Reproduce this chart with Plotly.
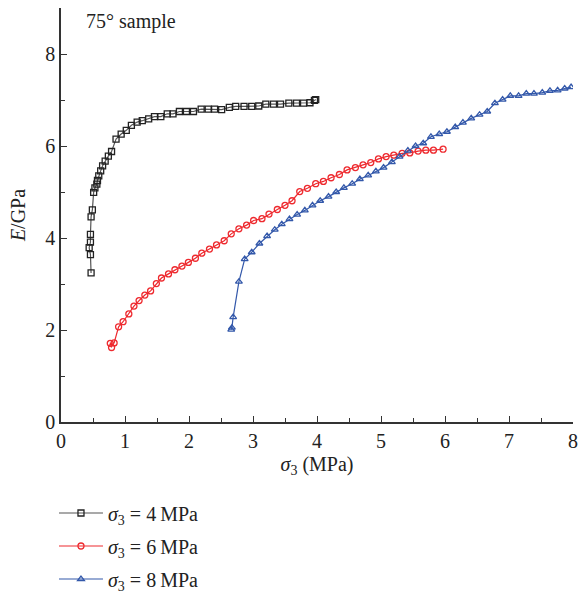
import plotly.graph_objects as go

# sigma3 = 4 MPa
x4 = [0.47,0.46,0.44,0.46,0.46,0.47,0.49,0.51,0.53,0.56,0.57,0.59,0.62,0.65,0.69,0.74,0.79,0.86,0.94,1.02,1.10,1.19,1.27,1.37,1.46,1.56,1.66,1.75,1.85,1.96,2.07,2.19,2.30,2.40,2.51,2.63,2.73,2.86,2.98,3.09,3.20,3.32,3.43,3.56,3.68,3.79,3.89,3.96,3.98]
y4 = [3.24,3.64,3.79,3.91,4.08,4.46,4.61,4.99,5.09,5.17,5.25,5.35,5.46,5.57,5.67,5.78,5.88,6.15,6.26,6.34,6.45,6.52,6.55,6.59,6.64,6.64,6.70,6.70,6.75,6.75,6.75,6.80,6.80,6.80,6.79,6.84,6.86,6.86,6.86,6.87,6.91,6.91,6.91,6.93,6.93,6.93,6.94,6.99,7.01]

# sigma3 = 6 MPa
x6 = [0.79,0.77,0.83,0.90,0.97,1.06,1.14,1.22,1.31,1.40,1.49,1.57,1.68,1.78,1.89,1.99,2.10,2.20,2.32,2.43,2.55,2.66,2.78,2.90,3.01,3.14,3.25,3.38,3.50,3.61,3.73,3.85,3.98,4.10,4.22,4.35,4.47,4.60,4.72,4.84,4.96,5.08,5.20,5.33,5.45,5.58,5.70,5.82,5.97]
y6 = [1.62,1.71,1.72,2.07,2.18,2.35,2.52,2.64,2.76,2.85,3.01,3.13,3.22,3.31,3.39,3.47,3.56,3.67,3.76,3.85,3.94,4.09,4.20,4.28,4.38,4.42,4.52,4.62,4.71,4.81,5.01,5.08,5.18,5.23,5.31,5.38,5.48,5.53,5.59,5.64,5.72,5.77,5.80,5.84,5.85,5.89,5.91,5.91,5.93]

# sigma3 = 8 MPa
x8 = [2.66,2.67,2.69,2.78,2.87,2.98,3.10,3.22,3.34,3.45,3.57,3.69,3.81,3.93,4.05,4.18,4.30,4.42,4.55,4.67,4.80,4.92,5.04,5.17,5.29,5.42,5.54,5.66,5.78,5.91,6.03,6.16,6.28,6.41,6.54,6.66,6.78,6.90,7.02,7.15,7.27,7.39,7.52,7.64,7.76,7.87,7.97]
y8 = [2.01,2.05,2.28,3.05,3.54,3.69,3.88,4.04,4.18,4.30,4.41,4.51,4.60,4.71,4.81,4.90,5.00,5.09,5.18,5.28,5.36,5.45,5.53,5.65,5.77,5.90,6.00,6.06,6.20,6.26,6.31,6.41,6.51,6.60,6.68,6.75,6.93,7.01,7.09,7.09,7.14,7.14,7.16,7.20,7.21,7.25,7.28]

x_ticks = [0, 1, 2, 3, 4, 5, 6, 7, 8]
y_ticks = [0, 2, 4, 6, 8]

FONT = "Liberation Serif"
FS = 20
TXT = "#222222"

series = [
    (x4, y4, "<i>σ</i><sub>3</sub> = 4\u2009MPa", "#555555", "#222222", "square-open", "g1"),
    (x6, y6, "<i>σ</i><sub>3</sub> = 6\u2009MPa", "#ee2a2f", "#ee2a2f", "circle-open", "g2"),
    (x8, y8, "<i>σ</i><sub>3</sub> = 8\u2009MPa", "#3358aa", "#3358aa", "triangle-up-open", "g3"),
]

fig = go.Figure()
for xs, ys, name, lcol, mcol, sym, grp in series:
    fig.add_trace(go.Scatter(
        x=xs, y=ys, mode="lines+markers", name=name, legendgroup=grp,
        line=dict(color=lcol, width=1.2),
        marker=dict(symbol=sym, size=6, color=mcol, line=dict(width=1.3, color=mcol)),
    ))

axis_common = dict(
    showline=True, linecolor="#333333", linewidth=1.5, mirror=False,
    ticks="inside", ticklen=6, tickwidth=1.3, tickcolor="#333333",
    showgrid=False, zeroline=False, automargin=False,
    tickfont=dict(family=FONT, size=FS, color=TXT),
)

fig.update_xaxes(
    range=[0, 8], tickvals=x_ticks,
    minor=dict(dtick=0.5, ticks="inside", ticklen=4, tickwidth=1.2, tickcolor="#333333"),
    title=dict(text="<i>σ</i><sub>3</sub> (MPa)", font=dict(family=FONT, size=FS, color=TXT), standoff=6),
    **axis_common,
)
fig.update_yaxes(
    range=[0, 9], tickvals=y_ticks,
    minor=dict(dtick=1, ticks="inside", ticklen=4, tickwidth=1.2, tickcolor="#333333"),
    title=dict(text="<i>E</i>/GPa", font=dict(family=FONT, size=FS, color=TXT), standoff=14),
    **axis_common,
)

fig.add_annotation(
    x=0.045, y=1.0, xref="paper", yref="paper", xanchor="left", yanchor="top",
    text="75° sample", showarrow=False,
    font=dict(family=FONT, size=FS, color=TXT),
)

fig.update_layout(
    width=578, height=592,
    margin=dict(l=61, r=5, t=8, b=170),
    paper_bgcolor="white", plot_bgcolor="white",
    showlegend=True,
    legend=dict(
        xref="paper", yref="container",
        x=-0.0137, y=0.1664, xanchor="left", yanchor="top",
        font=dict(family=FONT, size=FS, color=TXT),
        tracegroupgap=4, itemwidth=44,
        bgcolor="rgba(0,0,0,0)",
    ),
)

fig.write_html("out.html")
